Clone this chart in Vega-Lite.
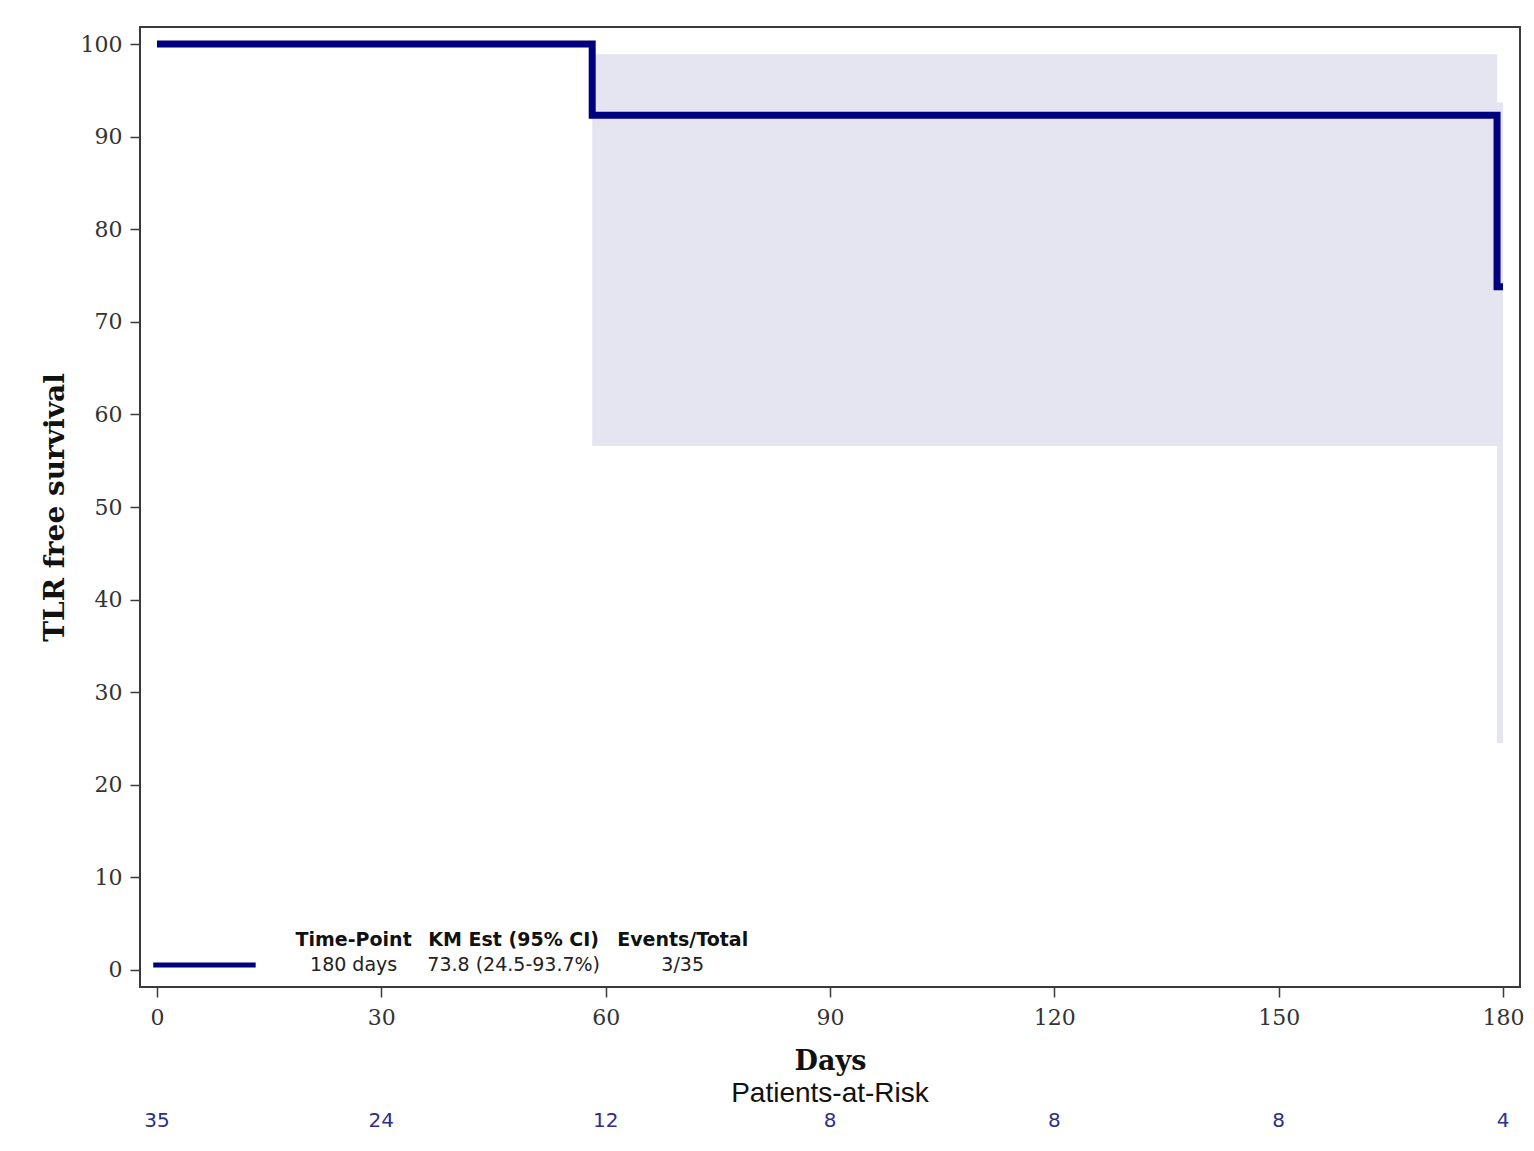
{
  "$schema": "https://vega.github.io/schema/vega-lite/v6.json",
  "autosize": {"type": "none"},
  "width": 1380,
  "height": 960,
  "padding": {"left": 140, "top": 27, "right": 14, "bottom": 164},
  "background": "white",
  "config": {
    "view": {"stroke": "#3a3a3a", "strokeWidth": 2},
    "axis": {"domain": false, "grid": false, "tickColor": "#3a3a3a", "tickWidth": 1.5, "tickSize": 10,
      "labelFont": "DejaVu Serif", "labelFontSize": 22, "labelColor": "#333333",
      "titleFont": "DejaVu Serif", "titleFontSize": 27, "titleFontWeight": "bold", "titleColor": "#111111"}
  },
  "datasets": {
    "ci": [
      {"start": 58.2, "end": 179.2, "lower": 56.6, "upper": 98.9},
      {"start": 179.2, "end": 180, "lower": 24.5, "upper": 93.7}
    ],
    "km": [
      {"day": 0, "surv": 100},
      {"day": 58.2, "surv": 92.3},
      {"day": 179.2, "surv": 73.8},
      {"day": 180, "surv": 73.8}
    ],
    "legendline": [{"from": -0.5, "to": 13.2, "level": 0.54}],
    "header": [
      {"day": 26.3, "level": 3.24, "label": "Time-Point"},
      {"day": 47.7, "level": 3.24, "label": "KM Est (95% CI)"},
      {"day": 70.3, "level": 3.24, "label": "Events/Total"}
    ],
    "values": [
      {"day": 26.3, "level": 0.54, "label": "180 days"},
      {"day": 47.7, "level": 0.54, "label": "73.8 (24.5-93.7%)"},
      {"day": 70.3, "level": 0.54, "label": "3/35"}
    ],
    "risktitle": [{"day": 90, "level": -13.4, "label": "Patients-at-Risk"}],
    "risk": [
      {"day": 0, "level": -16.3, "n": "35"},
      {"day": 30, "level": -16.3, "n": "24"},
      {"day": 60, "level": -16.3, "n": "12"},
      {"day": 90, "level": -16.3, "n": "8"},
      {"day": 120, "level": -16.3, "n": "8"},
      {"day": 150, "level": -16.3, "n": "8"},
      {"day": 180, "level": -16.3, "n": "4"}
    ]
  },
  "layer": [
    {
      "data": {"name": "ci"},
      "mark": {"type": "rect", "color": "#e4e5f1"},
      "encoding": {
        "x": {"field": "start", "type": "quantitative", "scale": {"domain": [-2.27, 182.27], "nice": false, "zero": false},
          "axis": {"values": [0, 30, 60, 90, 120, 150, 180], "title": "Days", "labelPadding": 10, "titlePadding": 20}},
        "x2": {"field": "end"},
        "y": {"field": "lower", "type": "quantitative", "scale": {"domain": [-1.84, 101.84], "nice": false, "zero": false},
          "axis": {"values": [0, 10, 20, 30, 40, 50, 60, 70, 80, 90, 100], "title": "TLR free survival", "labelPadding": 8, "titlePadding": 11, "titleFontSize": 28}},
        "y2": {"field": "upper"}
      }
    },
    {
      "data": {"name": "km"},
      "mark": {"type": "line", "interpolate": "step-after", "color": "#00007f", "strokeWidth": 7, "strokeJoin": "miter", "strokeCap": "butt"},
      "encoding": {
        "x": {"field": "day", "type": "quantitative"},
        "y": {"field": "surv", "type": "quantitative"}
      }
    },
    {
      "data": {"name": "legendline"},
      "mark": {"type": "rule", "color": "#00007f", "strokeWidth": 5},
      "encoding": {
        "x": {"field": "from", "type": "quantitative"},
        "x2": {"field": "to"},
        "y": {"field": "level", "type": "quantitative"}
      }
    },
    {
      "data": {"name": "header"},
      "mark": {"type": "text", "font": "DejaVu Sans", "fontSize": 19, "fontWeight": "bold", "color": "#111111", "align": "center", "baseline": "middle"},
      "encoding": {
        "x": {"field": "day", "type": "quantitative"},
        "y": {"field": "level", "type": "quantitative"},
        "text": {"field": "label"}
      }
    },
    {
      "data": {"name": "values"},
      "mark": {"type": "text", "font": "DejaVu Sans", "fontSize": 19, "color": "#222222", "align": "center", "baseline": "middle"},
      "encoding": {
        "x": {"field": "day", "type": "quantitative"},
        "y": {"field": "level", "type": "quantitative"},
        "text": {"field": "label"}
      }
    },
    {
      "data": {"name": "risktitle"},
      "mark": {"type": "text", "font": "Liberation Sans", "fontSize": 28, "color": "#111111", "align": "center", "baseline": "middle"},
      "encoding": {
        "x": {"field": "day", "type": "quantitative"},
        "y": {"field": "level", "type": "quantitative"},
        "text": {"field": "label"}
      }
    },
    {
      "data": {"name": "risk"},
      "mark": {"type": "text", "font": "DejaVu Sans", "fontSize": 20, "color": "#2e2e8c", "align": "center", "baseline": "middle"},
      "encoding": {
        "x": {"field": "day", "type": "quantitative"},
        "y": {"field": "level", "type": "quantitative"},
        "text": {"field": "n"}
      }
    }
  ]
}
